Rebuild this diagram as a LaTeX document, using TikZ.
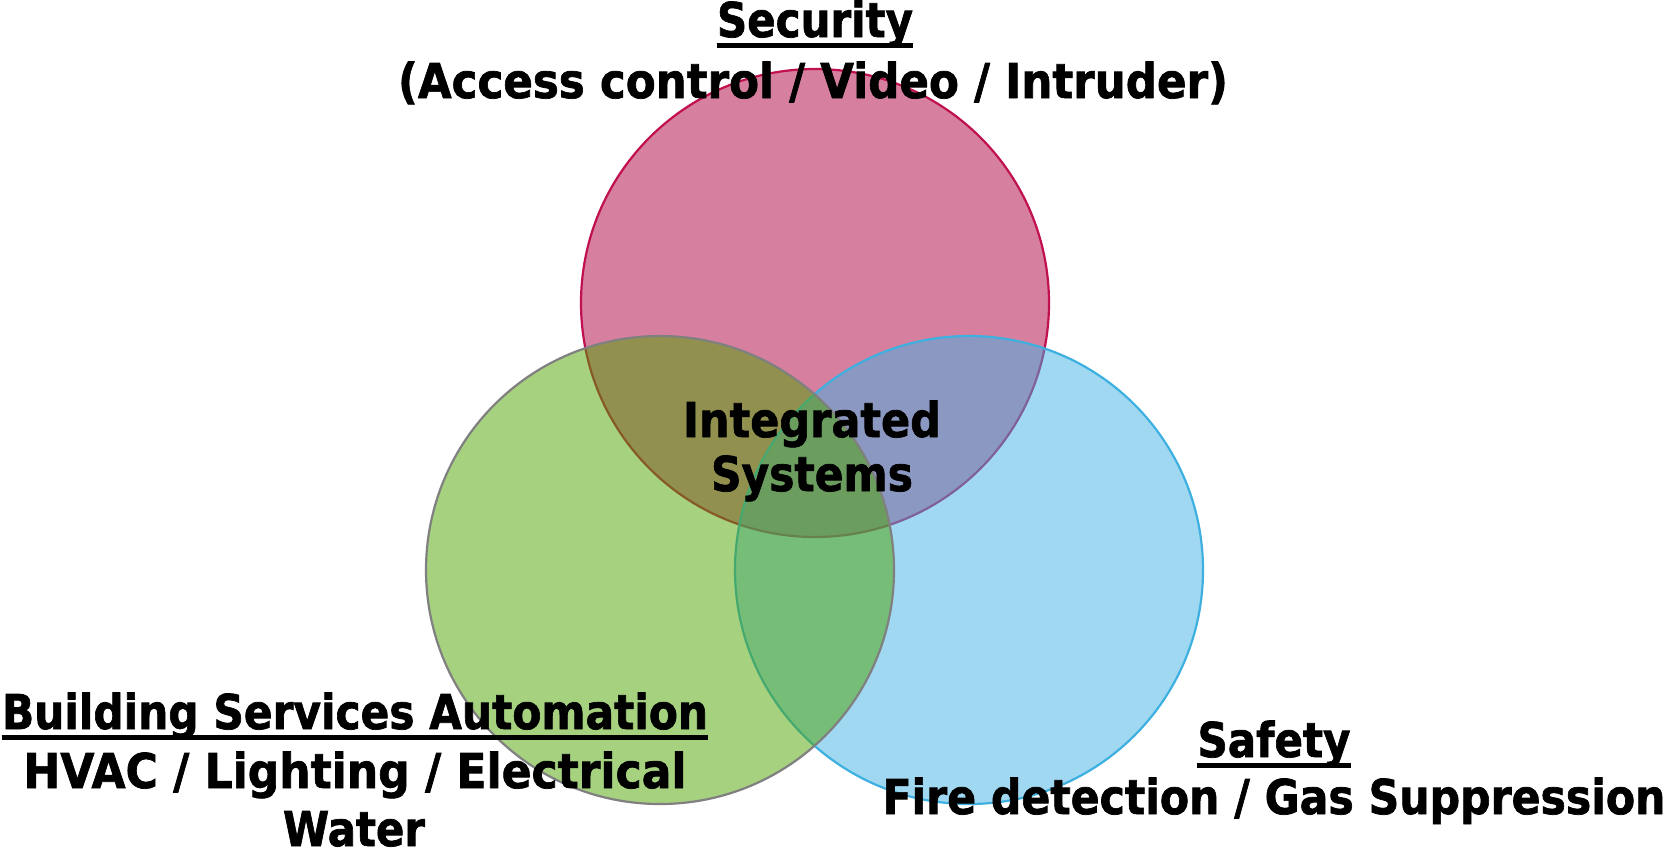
\documentclass[tikz,border=0pt]{standalone}
\usepackage{fontspec}
\usepackage{graphicx}
\setmainfont{DejaVu Sans}
\newfontfamily\labfont{DejaVu Sans Bold}[FakeBold=1.5]
\definecolor{secfill}{RGB}{173,0,63}
\definecolor{secline}{RGB}{192,16,79}
\definecolor{bsafill}{RGB}{77,163,0}
\definecolor{bsaline}{RGB}{128,128,128}
\definecolor{saffill}{RGB}{65,177,227}
\definecolor{safline}{RGB}{61,176,224}
% squeeze a line of text to a given width, keeping its height
\newcommand{\fitw}[2]{\resizebox{#1}{\height}{#2}}
\begin{document}
\begin{tikzpicture}[x=0.5pt,y=-0.5pt,
  setdisc/.style={circle, inner sep=0pt, minimum size=234pt, line width=1.1pt, fill opacity=0.5, draw opacity=1},
  lab/.style={inner sep=0pt, anchor=base, font=\labfont\fontsize{24}{29}\selectfont},
  ul/.style={line width=2.7pt}]
\useasboundingbox (0,0) rectangle (1668,848);

% the three sets, back to front
\node[setdisc, fill=secfill, draw=secline] (secset) at (815,303) {};
\node[setdisc, fill=saffill, draw=safline] (safset) at (969,570) {};
\node[setdisc, fill=bsafill, draw=bsaline] (bsaset) at (660,570) {};

% centre label
\node[lab] (int1) at (812,437) {\fitw{129pt}{Integrated}};
\node[lab] (int2) at (812,491) {\fitw{101pt}{Systems}};

% security
\node[lab] (sec) at (815,37) {\fitw{98pt}{Security}};
\node[lab] (sec2) at (813,98) {\fitw{415pt}{(Access control / Video / Intruder)}};
\draw[ul] ([yshift=-4.1pt]sec.base west) -- ([yshift=-4.1pt]sec.base east);

% building services
\node[lab] (bsa) at (355,729) {\fitw{353pt}{Building Services Automation}};
\node[lab] (bsa2) at (355,788) {\fitw{331.5pt}{HVAC / Lighting / Electrical}};
\node[lab] (bsa3) at (354,846) {\fitw{71pt}{Water}};
\draw[ul] ([yshift=-4.1pt]bsa.base west) -- ([yshift=-4.1pt]bsa.base east);

% safety
\node[lab] (saf) at (1274,757) {\fitw{76.5pt}{Safety}};
\node[lab] (saf2) at (1274,814) {\fitw{391.5pt}{Fire detection / Gas Suppression}};
\draw[ul] ([yshift=-4.1pt]saf.base west) -- ([yshift=-4.1pt]saf.base east);
\end{tikzpicture}
\end{document}
